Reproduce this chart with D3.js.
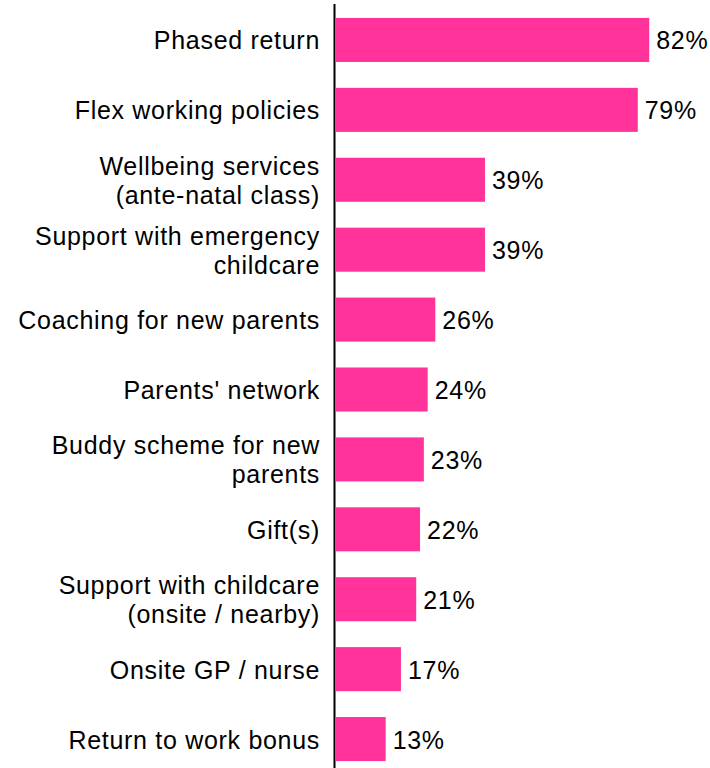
<!DOCTYPE html>
<html>
<head>
<meta charset="utf-8">
<script src="https://cdn.jsdelivr.net/npm/d3@7"></script>
<style>
  html, body { margin: 0; padding: 0; background: #fff; }
  svg { display: block; font-family: "Liberation Sans", Arial, Helvetica, sans-serif; }
</style>
</head>
<body>
<svg id="chart" width="710" height="768"></svg>
<script>
// Share of respondents offering each return-to-work support
const categories = [
  ["Phased return"],
  ["Flex working policies"],
  ["Wellbeing services", "(ante-natal class)"],
  ["Support with emergency", "childcare"],
  ["Coaching for new parents"],
  ["Parents' network"],
  ["Buddy scheme for new", "parents"],
  ["Gift(s)"],
  ["Support with childcare", "(onsite / nearby)"],
  ["Onsite GP / nurse"],
  ["Return to work bonus"]
];
const values = [82, 79, 39, 39, 26, 24, 23, 22, 21, 17, 13];
const valueLabels = ["82%", "79%", "39%", "39%", "26%", "24%", "23%", "22%", "21%", "17%", "13%"];

const svg = d3.select("#chart");
const fontSize = 25;
const spacing = 0.7;
const lineGap = 29;
const barLeft = 336;

const keys = categories.map((c, i) => i);

const x = d3.scaleLinear().domain([0, 100]).range([barLeft, barLeft + 382]);
const y = d3.scaleBand().domain(keys).range([5, 774]).paddingInner(0.37).paddingOuter(0.185);

// bars
svg.append("g")
  .selectAll("rect")
  .data(keys)
  .join("rect")
  .attr("x", x(0))
  .attr("y", i => y(i))
  .attr("width", i => x(values[i]) - x(0))
  .attr("height", y.bandwidth())
  .attr("fill", "#ff3399");

// value labels
svg.append("g")
  .selectAll("text")
  .data(keys)
  .join("text")
  .attr("x", i => x(values[i]) + 7)
  .attr("y", i => y(i) + y.bandwidth() / 2)
  .attr("dy", "0.38em")
  .attr("font-size", fontSize)
  .attr("letter-spacing", spacing)
  .attr("fill", "#000")
  .text(i => valueLabels[i]);

// category labels (left axis, no ticks)
const yAxis = d3.axisLeft(y)
  .tickSize(0)
  .tickPadding(16)
  .tickFormat(() => "");

const axisG = svg.append("g")
  .attr("transform", `translate(${barLeft - 1},0)`)
  .call(yAxis);

axisG.select(".domain").remove();

axisG.selectAll(".tick").each(function (i) {
  const lines = categories[i];
  const t = d3.select(this).select("text")
    .attr("font-size", fontSize)
    .attr("font-family", "'Liberation Sans', Arial, sans-serif")
    .attr("letter-spacing", spacing)
    .attr("fill", "#000")
    .attr("text-anchor", "end")
    .attr("dy", null);
  const offset = -(lines.length - 1) / 2 * lineGap;
  lines.forEach((ln, k) => {
    t.append("tspan")
      .attr("x", -15)
      .attr("y", offset + k * lineGap)
      .attr("dy", "0.38em")
      .text(ln);
  });
});

// vertical baseline
svg.append("line")
  .attr("x1", barLeft - 1.5).attr("x2", barLeft - 1.5)
  .attr("y1", 4).attr("y2", 768)
  .attr("stroke", "#000")
  .attr("stroke-width", 2);
</script>
</body>
</html>
